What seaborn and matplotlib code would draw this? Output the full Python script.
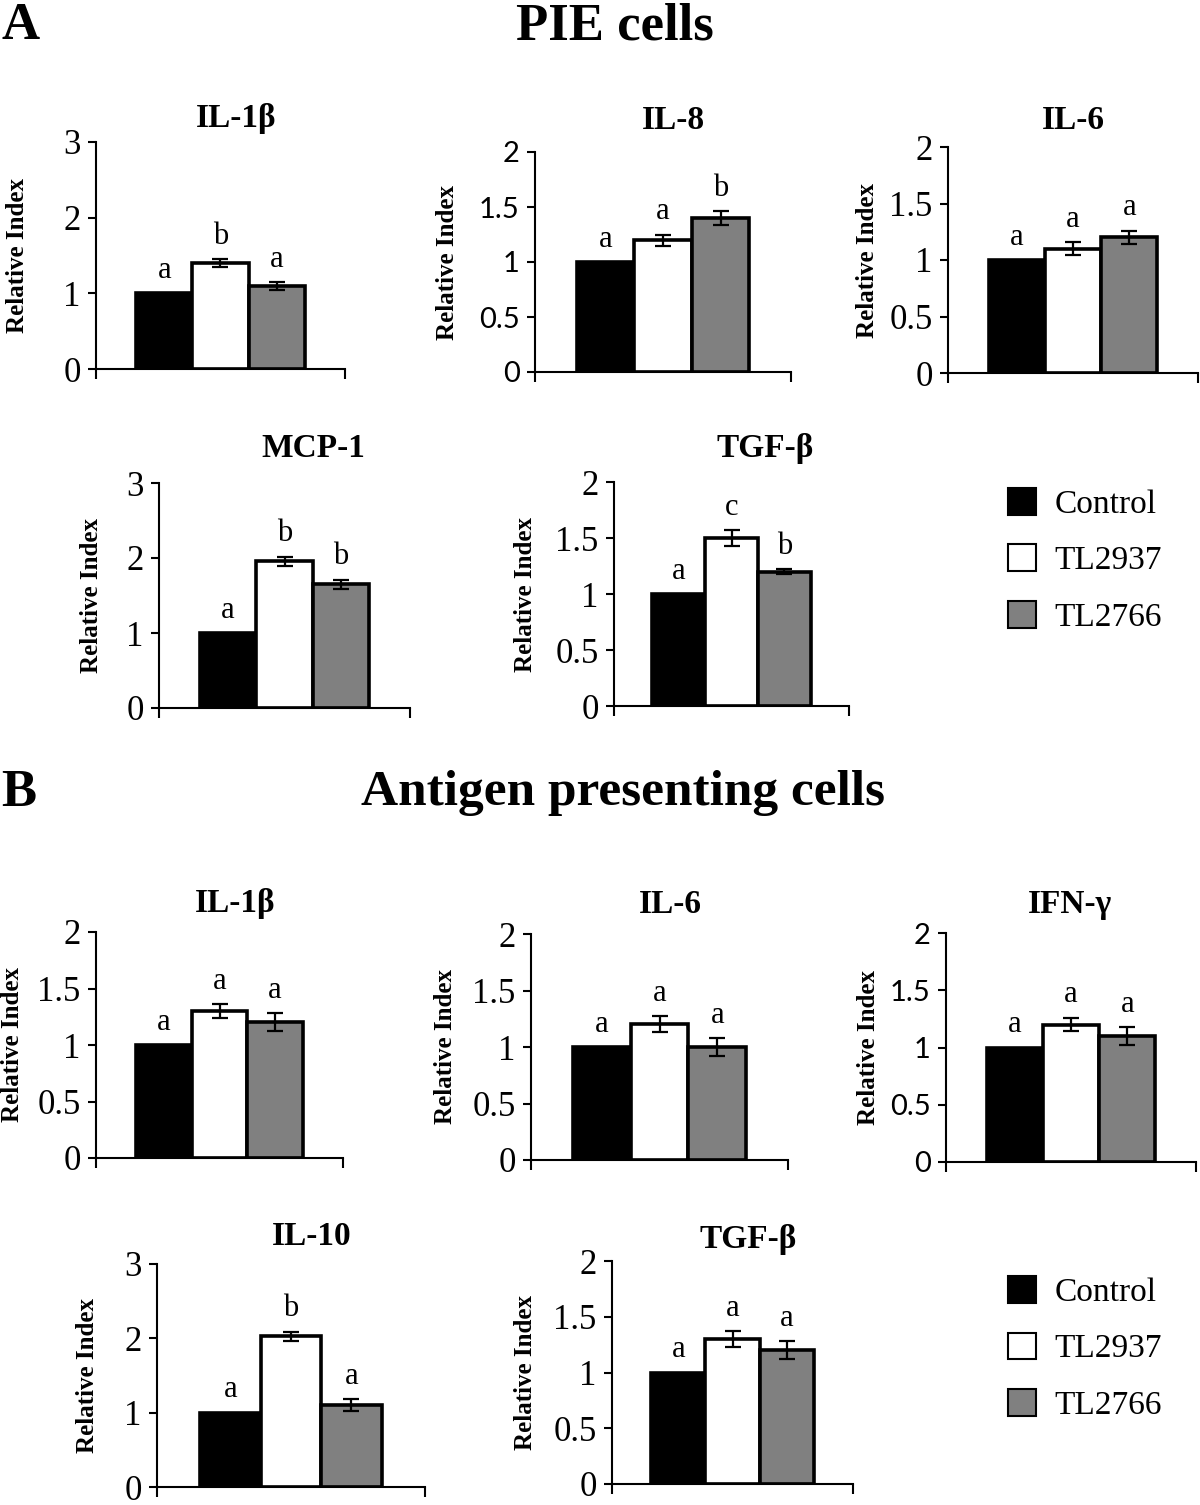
import numpy as np
import pandas as pd
import matplotlib.pyplot as plt
import seaborn as sns
from matplotlib.patches import Patch

groups = ["Control", "TL2937", "TL2766"]
colors = ["#000000", "#ffffff", "#808080"]

# A: PIE cells
a_titles = ["IL-1β", "IL-8", "IL-6", "MCP-1", "TGF-β"]
a_means = [[1.0, 1.40, 1.10], [1.0, 1.20, 1.40], [1.0, 1.10, 1.20], [1.0, 1.96, 1.65], [1.0, 1.50, 1.20]]
a_errs = [[0, 0.05, 0.05], [0, 0.05, 0.06], [0, 0.06, 0.06], [0, 0.06, 0.06], [0, 0.07, 0.02]]
a_letters = [["a", "b", "a"], ["a", "a", "b"], ["a", "a", "a"], ["a", "b", "b"], ["a", "c", "b"]]
a_ymax = [3, 2, 2, 3, 2]

# B: antigen presenting cells
b_titles = ["IL-1β", "IL-6", "IFN-γ", "IL-10", "TGF-β"]
b_means = [[1.0, 1.30, 1.20], [1.0, 1.20, 1.00], [1.0, 1.20, 1.10], [1.0, 2.03, 1.10], [1.0, 1.30, 1.20]]
b_errs = [[0, 0.06, 0.08], [0, 0.07, 0.08], [0, 0.06, 0.08], [0, 0.06, 0.08], [0, 0.07, 0.08]]
b_letters = [["a", "a", "a"], ["a", "a", "a"], ["a", "a", "a"], ["a", "b", "a"], ["a", "a", "a"]]
b_ymax = [2, 2, 2, 3, 2]

W, H = 1200, 1505
sns.set_theme(style="ticks")
plt.rcParams["font.family"] = ["Liberation Serif", "DejaVu Serif"]
plt.rcParams["text.color"] = "black"
plt.rcParams["axes.labelcolor"] = "black"
plt.rcParams["xtick.color"] = "black"
plt.rcParams["ytick.color"] = "black"
fig = plt.figure(figsize=(W / 100, H / 100), dpi=100)

# pixel layout: spine x, right x, top y, zero y, title x, title baseline y, ylabel x, sans ticks
layout_a = [
    (96, 345, 142, 369, 236, 127, 18, False),
    (535, 791, 152, 372, 673, 129, 448, True),
    (948, 1198, 147, 373, 1073, 129, 867, False),
    (159, 410, 483, 708, 313, 457, 92, False),
    (614, 849, 482, 706, 765, 457, 525, False),
]
layout_b = [
    (96, 343, 932, 1158, 235, 912, 13, False),
    (531, 788, 934, 1160, 670, 913, 445, False),
    (946, 1196, 933, 1162, 1070, 913, 868, True),
    (157, 425, 1264, 1487, 312, 1245, 88, False),
    (612, 853, 1261, 1484, 748, 1248, 525, False),
]


def draw_panel(lay, title, means, errs, letters, ymax):
    x0, x1, ytop, yzero, tx, ty, lx, sans = lay
    ax = fig.add_axes([x0 / W, 1 - yzero / H, (x1 - x0) / W, (yzero - ytop) / H])
    df = pd.DataFrame({"group": groups, "value": means})
    sns.barplot(data=df, x="group", y="value", hue="group", palette=colors,
                order=groups, hue_order=groups, width=1.0, edgecolor="black",
                linewidth=2.6, legend=False, ax=ax, zorder=2)
    xs = np.arange(len(groups))
    ax.errorbar(xs[1:], means[1:], yerr=errs[1:], fmt="none", ecolor="black",
                elinewidth=1.6, capsize=5.5, capthick=1.6, zorder=3)
    for i, (m, e, lab) in enumerate(zip(means, errs, letters)):
        ax.annotate(lab, xy=(i, m + e), xytext=(0, 6), textcoords="offset points",
                    ha="center", va="bottom", fontsize=22)
    ax.set_xlim(-1.22, 3.22)
    ax.set_ylim(0, ymax)
    if ymax == 3:
        ax.set_yticks([0, 1, 2, 3])
        ax.set_yticklabels(["0", "1", "2", "3"])
    else:
        ax.set_yticks([0, 0.5, 1, 1.5, 2])
        ax.set_yticklabels(["0", "0.5", "1", "1.5", "2"])
    ax.set_xticks([-1.22, 3.22])
    ax.set_xticklabels(["", ""])
    ax.set_xlabel("")
    ax.set_ylabel("")
    for s in ["top", "right"]:
        ax.spines[s].set_visible(False)
    for s in ["left", "bottom"]:
        ax.spines[s].set_linewidth(1.5)
        ax.spines[s].set_color("black")
    ax.tick_params(axis="y", direction="out", length=6, width=1.5, pad=5,
                   labelsize=21 if sans else 25, colors="black")
    ax.tick_params(axis="x", direction="out", length=7, width=1.5)
    for t in ax.get_yticklabels():
        t.set_verticalalignment("center_baseline")
        if sans:
            t.set_family(["Lato", "DejaVu Sans"])
    ax.patch.set_alpha(0)
    fig.text(tx / W, 1 - ty / H, title, ha="center", va="baseline",
             fontsize=24, fontweight="bold")
    fig.text(lx / W, 1 - (ytop + yzero) / 2 / H, "Relative Index", rotation=90,
             ha="center", va="center", fontsize=18, fontweight="bold")
    return ax


for i in range(5):
    draw_panel(layout_a[i], a_titles[i], a_means[i], a_errs[i], a_letters[i], a_ymax[i])
    draw_panel(layout_b[i], b_titles[i], b_means[i], b_errs[i], b_letters[i], b_ymax[i])

# section headers
fig.text(1 / W, 1 - 2 / H, "A", ha="left", va="top", fontsize=38, fontweight="bold")
fig.text(615 / W, 1 - 2 / H, "PIE cells", ha="center", va="top", fontsize=38, fontweight="bold")
fig.text(1 / W, 1 - 793 / H, "B", ha="left", va="center", fontsize=38, fontweight="bold")
fig.text(623 / W, 1 - 793 / H, "Antigen presenting cells", ha="center", va="center",
         fontsize=37, fontweight="bold")

handles = [Patch(facecolor=c, edgecolor="black", linewidth=1.5) for c in colors]
for ly in [488, 1276]:
    fig.legend(handles, groups, loc="upper left", bbox_to_anchor=(1008 / W, 1 - ly / H),
               frameon=False, fontsize=24, handlelength=0.85, handleheight=0.85,
               handletextpad=0.55, labelspacing=0.74, borderpad=0, borderaxespad=0)

fig.savefig("out.png", dpi=100, facecolor="white")
